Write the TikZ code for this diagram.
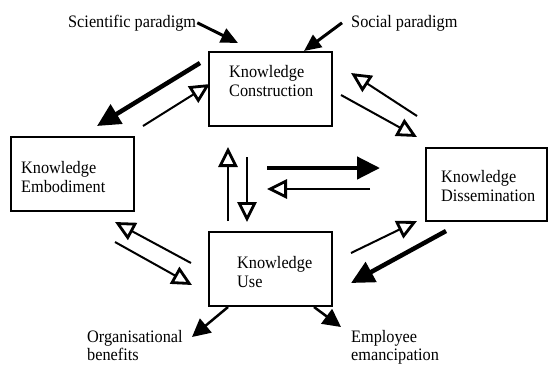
\documentclass[tikz,border=0pt]{standalone}
\usepackage{fontspec}
\setmainfont{Liberation Serif}[FakeStretch=0.93]
\usetikzlibrary{arrows.meta}
\tikzset{
	box/.style={draw,line width=1.8pt,minimum width=123pt,minimum height=74pt,inner sep=0pt,outer sep=0pt},
	txt/.style={inner sep=0pt,align=left},
	big/.style={line width=4.5pt,-{Triangle[length=23pt,width=22pt]}},
	hollow/.style={line width=2pt,-{Triangle[open,length=20pt,width=19pt,line width=2.8pt]}},
	feed/.style={line width=3pt,-{Triangle[length=17pt,width=15pt]}},
	result/.style={line width=2.5pt,-{Triangle[length=18pt,width=18pt]}},
}
\begin{document}
\begin{tikzpicture}[x=1pt,y=-1pt,font=\fontsize{17.5}{19.5}\selectfont]
	\useasboundingbox(0,0)rectangle(548,365);
	% the four stages
	\node[box](con)at(270.5,89){};
	\node[box](emb)at(72.5,174){};
	\node[box,minimum width=121pt,minimum height=73pt](dis)at(486.5,184.5){};
	\node[box](use)at(270.5,269){};
	\node[txt,anchor=north west](con-t)at(229,65){Knowledge\\Construction};
	\node[txt,anchor=north west](emb-t)at(21,161){Knowledge\\Embodiment};
	\node[txt,anchor=north west](dis-t)at(441,170){Knowledge\\Dissemination};
	\node[txt,anchor=north west](use-t)at(237,256){Knowledge\\Use};
	% inputs and outcomes
	\node[txt,anchor=base west](sci)at(68,27){Scientific paradigm};
	\node[txt,anchor=base west](soc)at(351,27){Social paradigm};
	\node[txt,anchor=north west,font=\fontsize{17.5}{18}\selectfont](org)at(87,330){Organisational\\benefits};
	\node[txt,anchor=north west,font=\fontsize{17.5}{18}\selectfont](emp)at(351,330){Employee\\emancipation};
	\draw[feed]([xshift=1pt]sci.east)--([shift={(29,-9)}]con.north west);
	\draw[feed]([xshift=-9pt]soc.west)--([shift={(-28,-1)}]con.north east);
	\draw[result]([shift={(19,1)}]use.south west)--([shift={(-17,31)}]use.south west);
	\draw[result]([shift={(-18,1)}]use.south east)--([shift={(9,21)}]use.south east);
	% flows between the stages
	\draw[big]([shift={(-9,11)}]con.north west)--([shift={(86,-11)}]emb.north west);
	\draw[hollow]([shift={(9,-11)}]emb.north east)--([shift={(1,-5)}]con.west);
	\draw[hollow]([shift={(9,6)}]con.east)--([shift={(-9,-11)}]dis.north west);
	\draw[hollow]([shift={(-9,-32)}]dis.north west)--([shift={(19,-16)}]con.east);
	\draw[hollow]([shift={(-42.5,-11)}]use.north)--([shift={(-42.5,21)}]con.south);
	\draw[hollow]([shift={(-23.5,31)}]con.south)--([shift={(-23.5,-10)}]use.north);
	\draw[big]([shift={(-3.5,42)}]con.south)--([shift={(-46,-16.5)}]dis.west);
	\draw[hollow]([shift={(-56,4.5)}]dis.west)--([shift={(-3.5,63)}]con.south);
	\draw[hollow]([shift={(-18,-6)}]use.west)--([shift={(-19,11)}]emb.south east);
	\draw[hollow]([shift={(-19,31)}]emb.south east)--([shift={(-17,16)}]use.west);
	\draw[big]([shift={(20,10)}]dis.south west)--([shift={(19,14)}]use.east);
	\draw[hollow]([shift={(19,-16)}]use.east)--([shift={(-9,0)}]dis.south west);
\end{tikzpicture}
\end{document}
